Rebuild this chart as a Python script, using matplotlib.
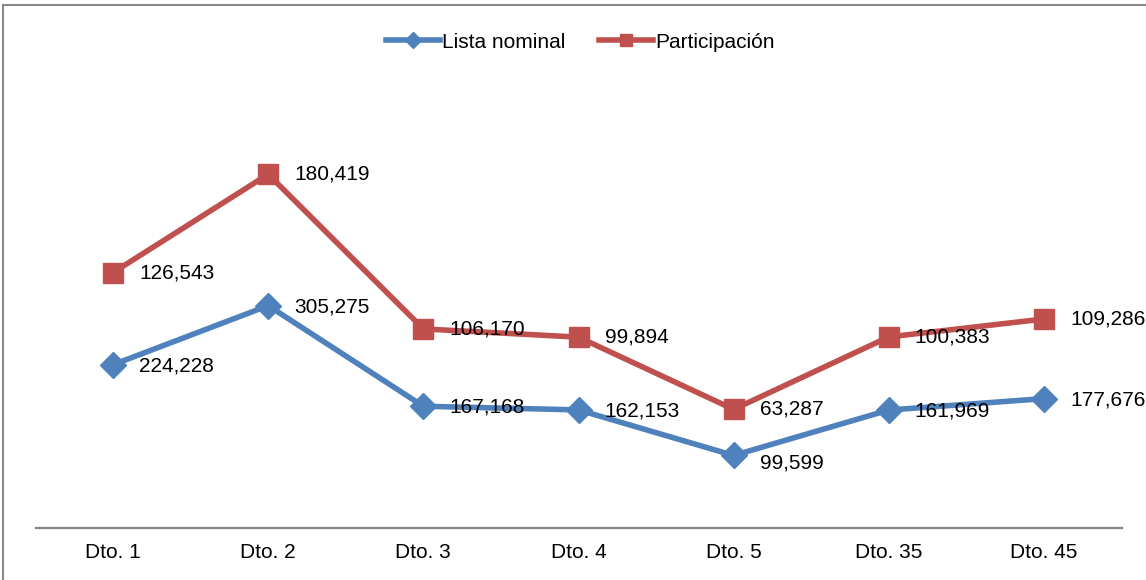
import numpy as np
import matplotlib
matplotlib.use("Agg")
import matplotlib.pyplot as plt
from matplotlib.patches import Rectangle

plt.rcParams["font.family"] = ["Liberation Sans", "DejaVu Sans"]

districts = ["Dto. 1", "Dto. 2", "Dto. 3", "Dto. 4", "Dto. 5", "Dto. 35", "Dto. 45"]
lista_nominal = [224228, 305275, 167168, 162153, 99599, 161969, 177676]
participacion = [126543, 180419, 106170, 99894, 63287, 100383, 109286]

BLUE = "#4F81BD"
RED = "#C0504D"

# stacked line chart: participation sits on top of the nominal list
x = np.arange(len(districts))
lista = np.array(lista_nominal)
stacked = lista + np.array(participacion)

fig = plt.figure(figsize=(11.46, 5.8), dpi=100)
ax = fig.add_axes([35.5 / 1146, 52 / 580, 1086 / 1146, 437 / 580])

l1, = ax.plot(x, lista, color=BLUE, lw=4, marker="D", markersize=13,
              label="Lista nominal")
l2, = ax.plot(x, stacked, color=RED, lw=4, marker="s", markersize=14,
              label="Participación")

for i, (xi, yi, v) in enumerate(zip(x, lista, lista_nominal)):
    dy = -8 if i == 4 else -1
    ax.annotate(f"{v:,}", (xi, yi), xytext=(26, dy), textcoords="offset pixels",
                ha="left", va="center", fontsize=15)
for xi, yi, v in zip(x, stacked, participacion):
    ax.annotate(f"{v:,}", (xi, yi), xytext=(26, 0), textcoords="offset pixels",
                ha="left", va="center", fontsize=15)

ax.set_xlim(-0.5, len(districts) - 0.5)
ax.set_ylim(0, 600000)
ax.set_xticks(x)
ax.set_xticklabels(districts, fontsize=15)
ax.tick_params(axis="x", length=0, pad=11)
ax.set_yticks([])
for s in ["top", "left", "right"]:
    ax.spines[s].set_visible(False)
ax.spines["bottom"].set_color("#868686")
ax.spines["bottom"].set_linewidth(1.6)

leg = fig.legend(handles=[l1, l2], loc="center", bbox_to_anchor=(580 / 1146, 1 - 42 / 580),
                 ncol=2, frameon=False, fontsize=15, handlelength=2.6,
                 handletextpad=0.1, columnspacing=1.6, markerscale=0.6)

# chart border (top and left visible)
fig.patches.append(Rectangle((3 / 1146, -0.1), 1.2, 1.1 - 5 / 580,
                             transform=fig.transFigure, fill=False,
                             edgecolor="#888888", lw=1.5))

fig.savefig("out.png", dpi=100)
